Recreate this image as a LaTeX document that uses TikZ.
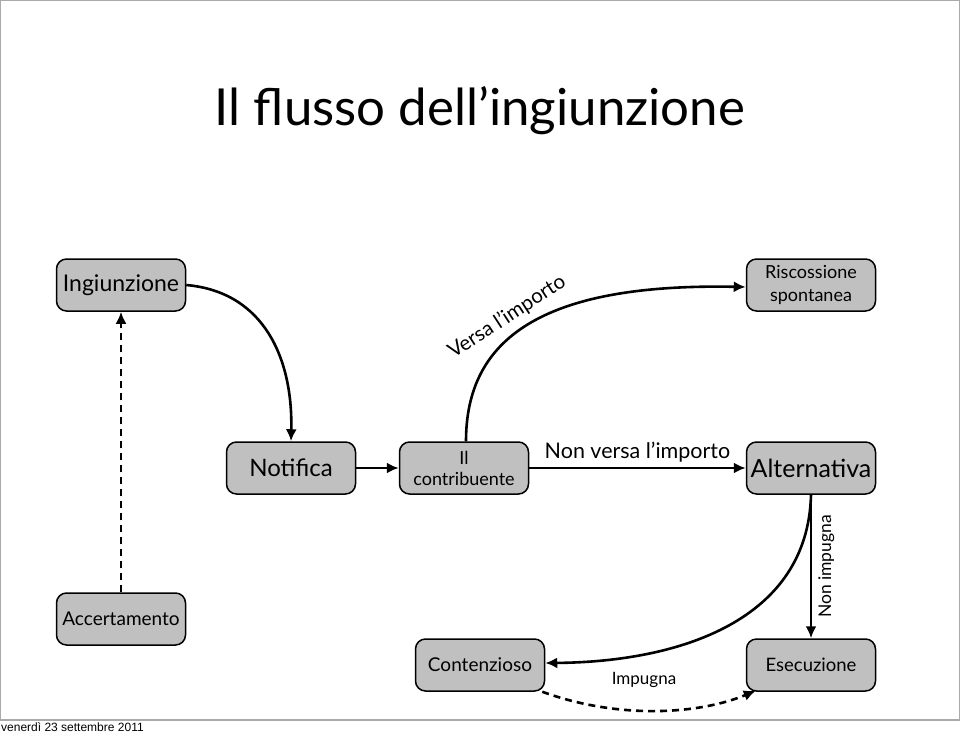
\documentclass[tikz,border=0pt]{standalone}
\usepackage{fontspec}
\setmainfont{Lato}
\newfontfamily\footfont{Liberation Sans}
\usetikzlibrary{arrows.meta}

\definecolor{boxgray}{RGB}{192,192,192}
\definecolor{framegray}{RGB}{170,170,170}

\tikzset{
  box/.style={draw=black, line width=1.5pt, fill=boxgray, rounded corners=10pt,
    minimum width=129pt, minimum height=52pt, align=center, inner sep=2pt},
  flow/.style={line width=2.6pt, -{Latex[length=12pt,width=11pt]}},
  dashflow/.style={flow, dash pattern=on 7pt off 5pt},
  lbl/.style={inner sep=1pt},
}

\begin{document}
\begin{tikzpicture}[x=1pt,y=-1pt]
% page size and slide frame
\useasboundingbox (0,0) rectangle (960,733);
\draw[framegray, line width=1.2pt] (0.6,0.6) rectangle (959.4,720);
\node[anchor=west, inner sep=0pt, font=\footfont\fontsize{12}{14}\selectfont] (data) at (1,727) {venerdì 23 settembre 2011};

% title
\node[font=\fontsize{51}{60}\selectfont] (titolo) at (480,111) {Il flusso dell’ingiunzione};

% boxes
\node[box, font=\fontsize{23}{27}\selectfont] (ingiunzione) at (121,285) {Ingiunzione};
\node[box, font=\fontsize{19}{22}\selectfont] (accertamento) at (121,619) {Accertamento};
\node[box, font=\fontsize{24}{28}\selectfont] (notifica) at (291,468) {Notifica};
\node[box, font=\fontsize{18}{21}\selectfont] (contribuente) at (464,468) {Il\\contribuente};
\node[box, font=\fontsize{18}{23}\selectfont] (riscossione) at (811,285) {Riscossione\\spontanea};
\node[box, font=\fontsize{25}{29}\selectfont] (alternativa) at (811,468) {Alternativa};
\node[box, font=\fontsize{19}{22}\selectfont] (contenzioso) at (480,665) {Contenzioso};
\node[box, font=\fontsize{18.5}{22}\selectfont] (esecuzione) at (811,665) {Esecuzione};

% connectors
\draw[dashflow] (accertamento.north) -- (ingiunzione.south);
\draw[flow] (ingiunzione.east) .. controls (265,292) and (293,360) .. (notifica.north);
\draw[flow] (notifica.east) -- (contribuente.west);
\draw[flow] ([xshift=2pt]contribuente.north) .. controls (466,340) and (540,283) .. ([yshift=-2pt]riscossione.west);
\draw[flow] (contribuente.east) -- (alternativa.west)
  node[lbl, midway, above=4pt, font=\fontsize{21.5}{25}\selectfont] (nonversa) {Non versa l’importo};
\draw[flow] (alternativa.south) -- (esecuzione.north)
  node[lbl, midway, right=5pt, rotate=90, anchor=north, font=\fontsize{17.5}{20}\selectfont] (nonimpugna) {Non impugna};
\draw[flow] (alternativa.south) .. controls (808,620) and (680,662) .. ([yshift=2pt]contenzioso.east);
\draw[dashflow] ([xshift=-3pt]contenzioso.south east) .. controls (620,720) and (700,714) .. ([xshift=10pt,yshift=1pt]esecuzione.south west);

% labels
\node[lbl, rotate=33, font=\fontsize{20.5}{24}\selectfont] (versa) at (507,317) {Versa l’importo};
\node[lbl, font=\fontsize{17}{20}\selectfont] (impugna) at (644,680) {Impugna};

\end{tikzpicture}
\end{document}
